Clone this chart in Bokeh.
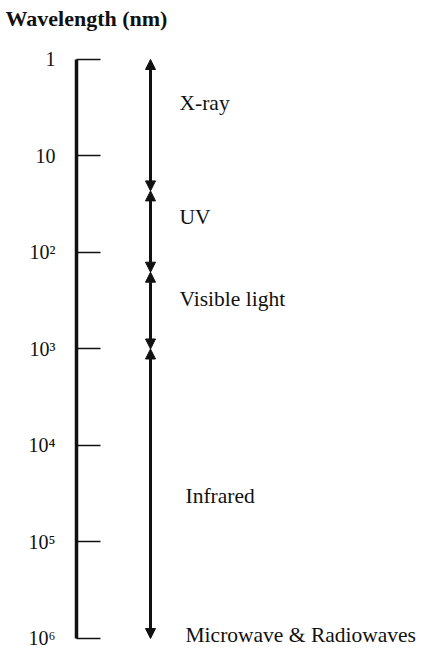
from bokeh.plotting import figure
from bokeh.models import (Range1d, FixedTicker, ColumnDataSource, Arrow, NormalHead,
                          LabelSet)
from bokeh.embed import file_html
from bokeh.resources import INLINE
import math

# ---- data ----
TICK_VALUES = [1, 10, 100, 1000, 10000, 100000, 1000000]
TICK_LABELS = ["1", "10", "10\u00b2", "10\u00b3", "10\u2074", "10\u2075", "10\u2076"]
BAND_NAMES = ["X-ray", "UV", "Visible light", "Infrared"]
BAND_START = [1, 23, 160, 1000]
BAND_END = [23, 160, 1000, 1000000]
END_LABEL = "Microwave & Radiowaves"
END_VALUE = 1000000

# ---- layout / style ----
FONT = "Liberation Serif"
ARROW_X = 0.2145
LABEL_DX = [29, 29, 29, 35]
LABEL_DY = [15, 8, 5, -9]
END_DX, END_DY = 35, -4
PAD_TOP_DECADES = 0.259
PAD_BOTTOM_DECADES = 0.114

lo = TICK_VALUES[0] / 10 ** PAD_TOP_DECADES
hi = TICK_VALUES[-1] * 10 ** PAD_BOTTOM_DECADES

p = figure(width=421, height=649, output_backend="svg", toolbar_location=None,
           y_axis_type="log", x_range=Range1d(0, 1),
           y_range=Range1d(hi, lo),
           min_border_left=76, min_border_right=0, min_border_bottom=0,
           min_border_top=34)
p.xaxis.visible = False
p.grid.visible = False
p.outline_line_color = None
p.background_fill_color = "white"
p.border_fill_color = "white"

ya = p.yaxis[0]
ya.ticker = FixedTicker(ticks=TICK_VALUES)
ya.bounds = (TICK_VALUES[0], TICK_VALUES[-1])
ya.major_label_overrides = {v: l for v, l in zip(TICK_VALUES, TICK_LABELS)}
ya.minor_tick_line_color = None
ya.major_tick_in = 24
ya.major_tick_out = 0
ya.major_tick_line_width = 1.5
ya.major_tick_line_color = "#111111"
ya.axis_line_width = 3.5
ya.axis_line_color = "#111111"
ya.major_label_standoff = 21
ya.major_label_text_font = FONT
ya.major_label_text_font_size = "20px"
ya.major_label_text_color = "#111111"

p.title.text = "Wavelength (nm)"
p.title.align = "left"
p.title.offset = -71
p.title.standoff = 7
p.title.vertical_align = "bottom"
p.title.text_font = FONT
p.title.text_font_size = "22px"
p.title.text_font_style = "bold"
p.title.text_color = "#111111"

arrows = ColumnDataSource(dict(x=[ARROW_X] * len(BAND_NAMES), y0=BAND_START, y1=BAND_END))
p.add_layout(Arrow(source=arrows, x_start="x", y_start="y0", x_end="x", y_end="y1",
                   line_width=3, line_color="#111111",
                   start=NormalHead(size=10, fill_color="#111111", line_color="#111111", line_width=1),
                   end=NormalHead(size=10, fill_color="#111111", line_color="#111111", line_width=1)))

mids = [math.sqrt(a * b) for a, b in zip(BAND_START, BAND_END)]
lab = ColumnDataSource(dict(x=[ARROW_X] * (len(BAND_NAMES) + 1),
                            y=mids + [END_VALUE],
                            text=BAND_NAMES + [END_LABEL],
                            dx=LABEL_DX + [END_DX], dy=LABEL_DY + [END_DY]))
p.add_layout(LabelSet(source=lab, x="x", y="y", text="text", x_offset="dx", y_offset="dy",
                      text_font=FONT, text_font_size="21.5px", text_color="#111111",
                      text_baseline="alphabetic", text_align="left"))

open("out.html", "w").write(file_html(p, INLINE))
